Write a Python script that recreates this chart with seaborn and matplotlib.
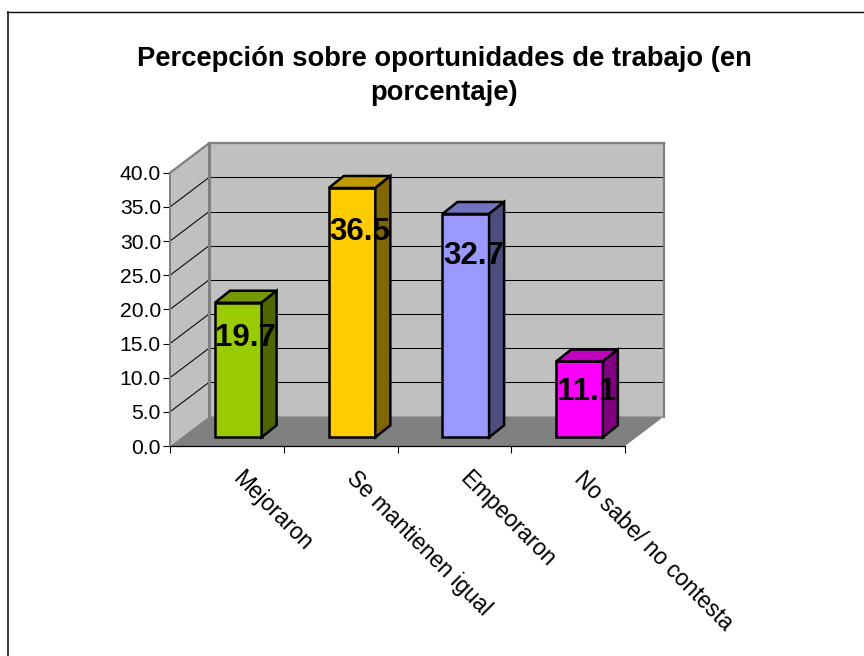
import numpy as np
import pandas as pd
import seaborn as sns
import matplotlib.pyplot as plt
from matplotlib.patches import Polygon

categorias = ['Mejoraron', 'Se mantienen igual', 'Empeoraron', 'No sabe/ no contesta']
valores = [19.7, 36.5, 32.7, 11.1]
colores = ['#99CC00', '#FFCC00', '#9999FF', '#FF00FF']
colores_top = ['#739900', '#BF9900', '#7373BF', '#BF00BF']
colores_lado = ['#4D6600', '#806600', '#4D4D80', '#800080']
yticks = [0, 5, 10, 15, 20, 25, 30, 35, 40]
titulo = 'Percepción sobre oportunidades de trabajo (en\nporcentaje)'

sns.set_theme(style='white')
plt.rcParams['font.family'] = ['Liberation Sans', 'DejaVu Sans']

W, H = 864, 656
fig = plt.figure(figsize=(W / 100, H / 100), dpi=100, facecolor='white')


def caja(x0, y_abajo, ancho, alto):
    # pixeles de la imagen -> coordenadas de figura
    return [x0 / W, (H - y_abajo) / H, ancho / W, alto / H]


# marco del grafico (sin borde derecho ni inferior)
fig.add_artist(plt.Line2D([7.5 / W, 7.5 / W], [0, (H - 12) / H], color='#404040', lw=1.5))
fig.add_artist(plt.Line2D([7 / W, 1], [(H - 12.3) / H, (H - 12.3) / H], color='black', lw=1))

linea1, linea2 = titulo.split('\n')
fig.text(444.5 / W, (H - 59) / H, linea1, ha='center', va='center',
         fontsize=19.7, fontweight='bold', color='black')
fig.text(444.5 / W, (H - 93) / H, linea2, ha='center', va='center',
         fontsize=19.7, fontweight='bold', color='black')

# plano del fondo
ancho, alto = 455, 273.2
fx, fy = 39, 29.5
ax_fondo = fig.add_axes(caja(170 + fx, 446 - fy, ancho, alto), facecolor='#C0C0C0')
ax_fondo.set_xlim(0, 1)
ax_fondo.set_ylim(0, 40)
ax_fondo.set_xticks([])
ax_fondo.set_yticks(yticks)
ax_fondo.tick_params(left=False, labelleft=False)
ax_fondo.grid(axis='y', color='black', lw=0.75)
for s in ax_fondo.spines.values():
    s.set_color('#808080')
    s.set_linewidth(1.6)
ax_fondo.spines['bottom'].set_visible(False)

# plano del frente: ejes, pared izquierda y piso
ax = fig.add_axes(caja(170, 446, ancho, alto), facecolor='none')
ax.set_xlim(-0.5, 3.5)
ax.set_ylim(0, 40)
dx_f = fx / ancho * 4
dy_f = fy / alto * 40
ax.add_patch(Polygon([(-0.5, 0), (-0.5, 40), (-0.5 + dx_f, 40 + dy_f), (-0.5 + dx_f, dy_f)],
                     closed=True, fc='#C0C0C0', ec='none', clip_on=False, zorder=1))
ax.add_patch(Polygon([(-0.5, 0), (3.5, 0), (3.5 + dx_f, dy_f), (-0.5 + dx_f, dy_f)],
                     closed=True, fc='#808080', ec='none', clip_on=False, zorder=1))
for t in yticks[1:-1]:
    ax.plot([-0.5, -0.5 + dx_f], [t, t + dy_f], color='black', lw=0.75, clip_on=False, zorder=2)
ax.plot([-0.5, -0.5 + dx_f], [40, 40 + dy_f], color='#808080', lw=1.6, clip_on=False, zorder=2)
ax.plot([-0.5 + dx_f, -0.5 + dx_f], [dy_f, 40 + dy_f], color='#808080', lw=2.2, clip_on=False, zorder=2)

ax.set_yticks(yticks)
ax.set_yticklabels([f'{t:.1f}' for t in yticks], fontsize=15.2, color='black')
ax.set_xticks(np.arange(-0.5, 4, 1))
ax.set_xticklabels([])
ax.tick_params(axis='both', length=5, width=0.8, color='black', pad=1.5, bottom=True, left=True)
sns.despine(ax=ax, top=True, right=True)
ax.spines['left'].set_color('#808080')
ax.spines['left'].set_linewidth(1.4)
ax.spines['bottom'].set_color('black')
ax.spines['bottom'].set_linewidth(0.9)

# etiquetas rotadas, ancladas por el inicio del texto
for i, cat in enumerate(categorias):
    ax.annotate(cat, xy=(i, 0), xycoords='data', xytext=(6.5, -21), textcoords='offset points',
                rotation=-45, rotation_mode='anchor', ha='left', va='center',
                fontsize=16.3, color='black', annotation_clip=False)

# barras
desp_x, desp_y = 11.4, 8.7
ax_barras = fig.add_axes(caja(170 + desp_x, 446 - desp_y, ancho, alto), facecolor='none')
df = pd.DataFrame({'categoria': categorias, 'valor': valores})
sns.barplot(data=df, x='categoria', y='valor', hue='categoria', palette=colores, legend=False,
            width=0.41, edgecolor='black', linewidth=1.8, saturation=1, ax=ax_barras)
ax_barras.set_xlim(-0.5, 3.5)
ax_barras.set_ylim(0, 40)
ax_barras.axis('off')

prof_x = 15 / ancho * 4
prof_y = 12 / alto * 40
px_por_unidad = alto / 40
for barra, v, c_top, c_lado in zip(ax_barras.patches, valores, colores_top, colores_lado):
    x0 = barra.get_x()
    x1 = x0 + barra.get_width()
    ax_barras.add_patch(Polygon([(x0, v), (x1, v), (x1 + prof_x, v + prof_y), (x0 + prof_x, v + prof_y)],
                                closed=True, fc=c_top, ec='black', lw=1.8, clip_on=False))
    ax_barras.add_patch(Polygon([(x1, 0), (x1, v), (x1 + prof_x, v + prof_y), (x1 + prof_x, prof_y)],
                                closed=True, fc=c_lado, ec='black', lw=1.8, clip_on=False))
    barra.set_clip_on(False)
    # la etiqueta baja un poco mas en las barras altas
    baja = (25 + 0.52 * v) / px_por_unidad
    ax_barras.text(x0 + barra.get_width() / 2 + prof_x / 2, v - baja, f'{v:.1f}', ha='center', va='center',
                   fontsize=22.5, fontweight='bold', color='black', zorder=10)

fig.savefig('out.png', dpi=100)
